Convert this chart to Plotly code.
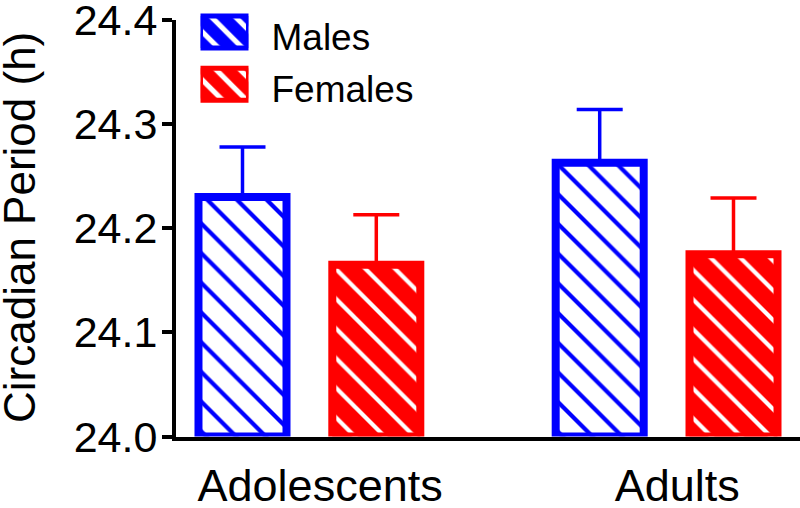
import plotly.graph_objects as go

# ---- data ----
categories = ["Adolescents", "Adults"]
series = ["Males", "Females"]
males_mean = [24.230, 24.263]
females_mean = [24.165, 24.175]
males_sem = [0.048, 0.051]
females_sem = [0.048, 0.054]
y_ticks = [24.0, 24.1, 24.2, 24.3, 24.4]

# ---- style ----
W, H = 800, 508
FONT = "Liberation Sans, Arial, sans-serif"
colors = {"Males": "#0000FF", "Females": "#FF0000"}

# plot area in px
PX_L, PX_R = 176, 800
PX_T, PX_B = 20, 436.5
GROUP_PX = 357.2          # px between group positions
x_range = [(PX_L - 309.4) / GROUP_PX, (PX_R - 309.4) / GROUP_PX]
offset = 0.1873
bar_w = 0.2464

means = {"Males": males_mean, "Females": females_mean}
sems = {"Males": males_sem, "Females": females_sem}
offs = {"Males": -offset, "Females": offset}
pat = {
    "Males": dict(shape="\\", fgcolor="#0000FF", bgcolor="white", size=21, solidity=0.2, fillmode="replace"),
    "Females": dict(shape="\\", fgcolor="white", bgcolor="#FF0000", size=21, solidity=0.2, fillmode="replace"),
}

fig = go.Figure()
for s in series:
    xs = [i + offs[s] for i in range(len(categories))]
    fig.add_trace(go.Bar(
        x=xs, y=[m - y_ticks[0] for m in means[s]], base=y_ticks[0],
        width=bar_w, name=s, showlegend=False,
        marker=dict(color=colors[s], pattern=pat[s],
                    line=dict(color=colors[s], width=8)),
        error_y=dict(type="data", symmetric=False, array=sems[s],
                     arrayminus=[0] * len(categories),
                     color=colors[s], thickness=3.5, width=23),
        xaxis="x", yaxis="y",
    ))

# legend keys drawn as small bars on their own axes
for s in series:
    fig.add_trace(go.Bar(
        y=[s], x=[1], base=0, orientation="h", width=0.615,
        showlegend=False, cliponaxis=False, hoverinfo="skip",
        marker=dict(color=colors[s],
                    pattern=dict(shape="\\", fgcolor="white", bgcolor=colors[s],
                                 size=17, solidity=0.3, fillmode="replace"),
                    line=dict(color=colors[s], width=5)),
        xaxis="x2", yaxis="y2",
    ))

fig.update_layout(
    width=W, height=H,
    margin=dict(l=0, r=0, t=0, b=0, pad=0, autoexpand=False),
    paper_bgcolor="white", plot_bgcolor="rgba(0,0,0,0)",
    font=dict(family=FONT, color="black"),
    barmode="overlay",
    xaxis=dict(domain=[PX_L / W, PX_R / W], range=x_range, anchor="y",
               automargin=False,
               showgrid=False, zeroline=False, ticks="",
               showline=True, linewidth=4, linecolor="black",
               tickvals=[i + 0.03 for i in range(len(categories))],
               ticktext=categories, tickfont=dict(size=45),
               ticklabelstandoff=6, ticklabeloverflow="allow"),
    yaxis=dict(domain=[1 - PX_B / H, 1 - PX_T / H], range=[y_ticks[0], y_ticks[-1]],
               anchor="x", automargin=False, showgrid=False, zeroline=False,
               tickvals=y_ticks, tickformat=".1f",
               ticks="outside", ticklen=10, tickwidth=3.5, tickcolor="black",
               showline=True, linewidth=4, linecolor="black",
               tickfont=dict(size=43), ticklabelstandoff=-4,
               ticklabeloverflow="allow"),
    xaxis2=dict(domain=[200.5 / W, 248.5 / W], range=[0, 1], anchor="y2",
                visible=False, fixedrange=True, automargin=False),
    yaxis2=dict(domain=[1 - 110.2 / H, 1 - 6 / H], range=[-0.5, 1.5], anchor="x2",
                type="category", categoryorder="array", categoryarray=series[::-1],
                side="right", showline=False, showgrid=False, zeroline=False,
                automargin=False, ticklabeloverflow="allow",
                ticks="", tickfont=dict(size=37), ticklabelstandoff=22,
                ticklabelshift=5),
    annotations=[dict(text="Circadian Period (h)", x=19 / W, y=1 - 228 / H,
                      xref="paper", yref="paper", textangle=-90,
                      showarrow=False, xanchor="center", yanchor="middle",
                      font=dict(size=44, family=FONT, color="black"))],
)

fig.write_html("out.html", config={"displayModeBar": False},
               post_script="document.body.style.margin='0';document.body.style.padding='0';")
